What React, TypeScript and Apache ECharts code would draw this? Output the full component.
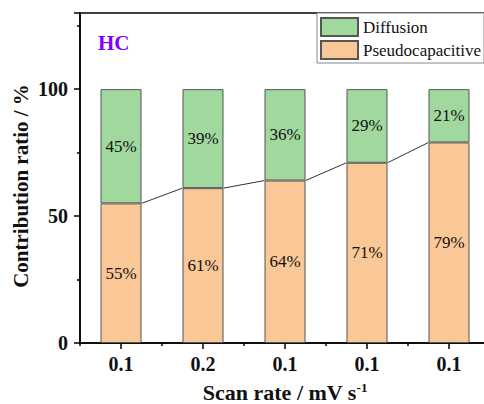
import React, { useEffect, useRef } from "react";
import * as echarts from "echarts";

const categories = ["0.1", "0.2", "0.1", "0.1", "0.1"];
const pseudocapacitive = [55, 61, 64, 71, 79];
const diffusion = [45, 39, 36, 29, 21];
const yTicks = [0, 50, 100];

const FONT = "Liberation Serif";

export default function App() {
  const ref = useRef<HTMLDivElement>(null);
  useEffect(() => {
    document.body.style.margin = "0";
    if (!ref.current) return;
    const chart = echarts.init(ref.current, null, { renderer: "svg" });
    const links = pseudocapacitive.slice(0, -1).map((v, i) => [i, v, i + 1, pseudocapacitive[i + 1]]);
    const barLabel = {
      show: true,
      position: "inside",
      formatter: "{c}%",
      fontFamily: FONT,
      fontSize: 17,
      fontWeight: "normal",
      color: "#111",
    };
    chart.setOption({
      animation: false,
      backgroundColor: "#ffffff",
      textStyle: { fontFamily: FONT },
      grid: {
        left: 80,
        top: 13,
        right: -6,
        bottom: 61,
        outerBoundsMode: "none",
        containLabel: false,
        show: true,
        borderColor: "#000",
        borderWidth: 1.5,
        backgroundColor: "transparent",
      },
      legend: {
        data: ["Diffusion", "Pseudocapacitive"],
        orient: "vertical",
        left: 317,
        top: 13,
        itemWidth: 37,
        itemHeight: 18,
        itemGap: 3,
        padding: [4, 3, 3, 3],
        backgroundColor: "#fff",
        borderColor: "#888",
        borderWidth: 1,
        borderRadius: 0,
        icon: "rect",
        textStyle: { fontFamily: FONT, fontSize: 17, color: "#111" },
        z: 20,
      },
      graphic: [
        {
          type: "text",
          left: 98,
          top: 32,
          style: { text: "HC", fontFamily: FONT, fontSize: 21, fontWeight: "bold", fill: "#7F00FF" },
          z: 30,
        },
        {
          type: "text",
          x: 21,
          y: 186,
          rotation: Math.PI / 2,
          style: {
            text: "Contribution ratio / %",
            fontFamily: FONT,
            fontSize: 21,
            fontWeight: "bold",
            fill: "#111",
            align: "center",
            verticalAlign: "middle",
          },
          z: 30,
        },
      ],
      xAxis: [
        {
          type: "category",
          data: categories,
          position: "bottom",
          axisLine: { lineStyle: { color: "#000", width: 1.5 } },
          axisTick: { show: true, alignWithLabel: false, length: 3, lineStyle: { color: "#000", width: 1.5 } },
          axisLabel: { show: true, margin: 11, fontFamily: FONT, fontSize: 20, fontWeight: "bold", color: "#111" },
          name: "{a|Scan rate / mV s}{b|-1}",
          nameLocation: "middle",
          nameGap: 38,
          nameTextStyle: {
            rich: {
              a: { fontFamily: FONT, fontSize: 22, fontWeight: "bold", color: "#111", lineHeight: 22 },
              b: { fontFamily: FONT, fontSize: 13, fontWeight: "bold", color: "#111", verticalAlign: "top", lineHeight: 13 },
            },
          },
        },
        {
          type: "category",
          data: categories,
          position: "bottom",
          axisLine: { show: false },
          axisTick: { show: true, alignWithLabel: true, length: 6, lineStyle: { color: "#000", width: 1.5 } },
          axisLabel: { show: false },
        },
      ],
      yAxis: {
        type: "value",
        min: 0,
        max: 130,
        interval: 50,
        splitLine: { show: false },
        axisLine: { show: true, lineStyle: { color: "#000", width: 1.5 } },
        axisTick: { show: true, length: 6, lineStyle: { color: "#000", width: 1.5 } },
        minorTick: { show: true, splitNumber: 2, length: 3, lineStyle: { color: "#000", width: 1.5 } },
        axisLabel: {
          margin: 12,
          fontFamily: FONT,
          fontSize: 20,
          fontWeight: "bold",
          color: "#111",
          formatter: (v: number) => (yTicks.includes(v) ? String(v) : ""),
        },
      },
      series: [
        {
          name: "Pseudocapacitive",
          type: "bar",
          stack: "total",
          barWidth: "50%",
          data: pseudocapacitive,
          itemStyle: { color: "#FAC896", borderColor: "#555", borderWidth: 1 },
          label: barLabel,
        },
        {
          name: "Diffusion",
          type: "bar",
          stack: "total",
          barWidth: "50%",
          data: diffusion,
          itemStyle: { color: "#A0D89E", borderColor: "#555", borderWidth: 1 },
          label: barLabel,
        },
        {
          name: "link",
          type: "custom",
          data: links,
          encode: { x: 0, y: 1 },
          z: 5,
          renderItem: (params: any, api: any) => {
            const p1 = api.coord([api.value(0), api.value(1)]);
            const p2 = api.coord([api.value(2), api.value(3)]);
            const half = (api.size([1, 0])[0] * 0.5) / 2;
            return {
              type: "line",
              shape: { x1: p1[0] + half, y1: p1[1], x2: p2[0] - half, y2: p2[1] },
              style: { stroke: "#333", lineWidth: 1 },
            };
          },
        },
      ],
    });
    return () => chart.dispose();
  }, []);
  return <div ref={ref} style={{ position: "fixed", left: 0, top: 0, width: 484, height: 404 }} />;
}
